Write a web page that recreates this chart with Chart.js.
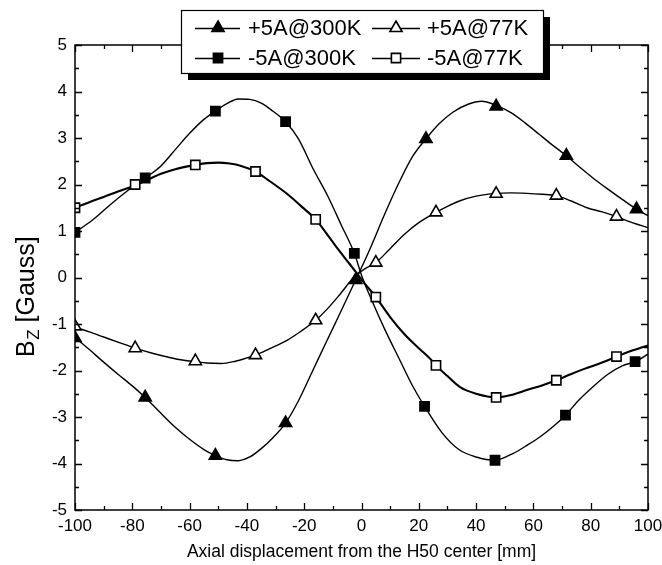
<!DOCTYPE html>
<html>
<head>
<meta charset="utf-8">
<script src="https://cdn.jsdelivr.net/npm/chart.js@4.4.1/dist/chart.umd.min.js"></script>
<style>
  html, body { margin: 0; padding: 0; background: #fff; }
  #wrap { width: 662px; height: 565px; }
</style>
</head>
<body>
<div id="wrap"><canvas id="c" width="662" height="565"></canvas></div>
<script>
// ---- Data ----
const seriesNames = ["+5A@300K", "+5A@77K", "-5A@300K", "-5A@77K"];

// measured curves (x in mm, Bz in Gauss)
const curveP300 = [[-100,-1.29],[-95,-1.55],[-90,-1.82],[-85,-2.08],[-80,-2.33],[-75.5,-2.58],[-70,-2.92],[-65,-3.22],[-60,-3.48],[-55,-3.70],[-51,-3.83],[-47,-3.92],[-43,-3.94],[-39,-3.86],[-35,-3.68],[-31,-3.45],[-26.5,-3.13],[-22,-2.65],[-17,-2.0],[-12,-1.35],[-7.5,-0.77],[-2,-0.05],[3,0.62],[8,1.35],[13.4,2.08],[18,2.62],[22.5,2.98],[27,3.30],[32,3.56],[37,3.72],[42,3.79],[47,3.70],[52,3.55],[57,3.33],[62,3.08],[66,2.88],[71.5,2.62],[76,2.38],[81,2.13],[86,1.90],[91,1.68],[96,1.47],[100,1.33]];
const curveP77 = [[-100,-1.07],[-95,-1.17],[-90,-1.28],[-85,-1.39],[-79,-1.52],[-73,-1.63],[-67,-1.72],[-62,-1.78],[-58,-1.81],[-54,-1.84],[-49,-1.85],[-44,-1.80],[-40,-1.73],[-37,-1.67],[-32,-1.53],[-26,-1.35],[-21,-1.15],[-16,-0.92],[-12,-0.68],[-7.5,-0.36],[-2.3,0.03],[1,0.18],[5,0.32],[10,0.62],[15,0.93],[20,1.18],[26,1.40],[30,1.53],[34.4,1.65],[40,1.75],[47,1.81],[52,1.82],[57.7,1.81],[63,1.79],[68,1.76],[73,1.65],[78.7,1.50],[84,1.41],[89,1.31],[94,1.19],[100,1.07]];
const curveM300 = [[-100,0.97],[-94,1.23],[-88,1.55],[-82,1.85],[-75.5,2.14],[-70,2.40],[-65,2.75],[-60,3.10],[-55,3.40],[-51,3.58],[-47,3.74],[-43,3.84],[-39,3.83],[-35,3.75],[-31,3.58],[-26.5,3.35],[-22,2.98],[-17,2.35],[-12,1.78],[-7,1.12],[-2.5,0.52],[0,0.05],[4,-0.55],[8,-1.10],[13.4,-1.78],[18,-2.35],[22,-2.77],[28,-3.33],[34,-3.70],[40,-3.86],[46.6,-3.93],[53,-3.78],[58,-3.60],[62.5,-3.42],[67,-3.20],[71.2,-2.96],[76,-2.63],[81,-2.34],[86,-2.08],[91,-1.90],[95.5,-1.81],[100,-1.65]];
const curveM77 = [[-100,1.50],[-95,1.62],[-90,1.73],[-85,1.85],[-79,1.98],[-74,2.12],[-70,2.23],[-65,2.33],[-58,2.42],[-54,2.46],[-50,2.47],[-46,2.45],[-42,2.40],[-37,2.28],[-32,2.07],[-26,1.80],[-21,1.53],[-16,1.25],[-12,0.93],[-8.6,0.64],[-4,0.28],[-1.6,0.09],[1,-0.12],[5,-0.42],[10,-0.85],[15,-1.22],[20,-1.52],[24,-1.75],[26,-1.89],[30,-2.12],[34.4,-2.36],[40,-2.50],[47,-2.58],[52,-2.53],[57.7,-2.42],[63,-2.32],[68,-2.21],[73,-2.08],[78,-1.96],[84,-1.83],[89,-1.70],[94,-1.58],[100,-1.46]];

// symbol positions
const markP300 = [[-100,-1.30],[-75.5,-2.58],[-51,-3.83],[-26.5,-3.13],[-2,-0.05],[22.5,2.98],[47,3.68],[71.5,2.62],[96,1.47]];
const markP77  = [[-100,-1.05],[-79,-1.52],[-58,-1.80],[-37,-1.67],[-16,-0.92],[5,0.32],[26,1.40],[47,1.80],[68,1.76],[89,1.31]];
const markM300 = [[-100,0.97],[-75.5,2.14],[-51,3.58],[-26.5,3.35],[-2.5,0.52],[22,-2.77],[46.6,-3.93],[71.2,-2.96],[95.5,-1.81]];
const markM77  = [[-100,1.50],[-79,2.00],[-58,2.42],[-37,2.28],[-16,1.25],[5,-0.42],[26,-1.89],[47,-2.58],[68,-2.21],[89,-1.70]];

const xTicks = [-100,-80,-60,-40,-20,0,20,40,60,80,100];
const yTicks = [-5,-4,-3,-2,-1,0,1,2,3,4,5];
const xTitle = "Axial displacement from the H50 center [mm]";

// ---- Chart ----
const FONT = "'Liberation Sans', Arial, sans-serif";
const toXY = a => a.map(p => ({x: p[0], y: p[1]}));

const styles = [
  {curve: curveP300, mark: markP300, ps: 'triangle', fill: '#000', r: 7, lw: 1.4},
  {curve: curveP77,  mark: markP77,  ps: 'triangle', fill: '#fff', r: 7, lw: 1.4},
  {curve: curveM300, mark: markM300, ps: 'rect',     fill: '#000', r: 6.5, lw: 1.4},
  {curve: curveM77,  mark: markM77,  ps: 'rect',     fill: '#fff', r: 6.5, lw: 2.1},
];

const datasets = [];
styles.forEach((s, i) => {
  datasets.push({
    label: seriesNames[i], data: toXY(s.curve), showLine: true,
    borderColor: '#000', borderWidth: s.lw, pointRadius: 0, tension: 0.35,
    cubicInterpolationMode: 'monotone', order: 2
  });
  datasets.push({
    label: seriesNames[i] + ' sym', data: toXY(s.mark), showLine: false,
    pointStyle: s.ps, pointRadius: s.r, pointBackgroundColor: s.fill,
    pointBorderColor: '#000', pointBorderWidth: 1.6, order: 1
  });
});

const frame = {
  id: 'frame',
  afterDatasetsDraw(chart) {
    const ctx = chart.ctx, a = chart.chartArea;
    const xs = chart.scales.x, ys = chart.scales.y;
    ctx.save();
    ctx.strokeStyle = '#000';
    ctx.lineWidth = 1.5;
    ctx.strokeRect(a.left, a.top, a.right - a.left, a.bottom - a.top);
    ctx.lineWidth = 1.3;
    ctx.beginPath();
    for (let v = -100; v <= 100; v += 10) {
      const px = Math.round(xs.getPixelForValue(v)) + 0.5;
      const L = (v % 20 === 0) ? 7 : 4;
      ctx.moveTo(px, a.bottom); ctx.lineTo(px, a.bottom - L);
      ctx.moveTo(px, a.top); ctx.lineTo(px, a.top + L);
    }
    for (let v = -5; v <= 5; v += 0.5) {
      const py = Math.round(ys.getPixelForValue(v)) + 0.5;
      const L = (Number.isInteger(v)) ? 7 : 4;
      ctx.moveTo(a.left, py); ctx.lineTo(a.left + L, py);
      ctx.moveTo(a.right, py); ctx.lineTo(a.right - L, py);
    }
    ctx.stroke();

    // y-axis title: B_Z [Gauss]
    ctx.translate(34, 357);
    ctx.rotate(-Math.PI / 2);
    ctx.fillStyle = '#000';
    ctx.textBaseline = 'alphabetic';
    ctx.textAlign = 'left';
    ctx.font = '25px ' + FONT;
    ctx.fillText('B', 0, 0);
    let w = ctx.measureText('B').width;
    ctx.font = '17px ' + FONT;
    ctx.fillText('Z', w + 0.5, 5);
    w += ctx.measureText('Z').width + 0.5;
    ctx.font = '25px ' + FONT;
    ctx.fillText(' [Gauss]', w, 0);
    ctx.restore();

    // legend
    ctx.save();
    const bx = 181, by = 10, bw = 362, bh = 63;
    ctx.fillStyle = '#000';
    ctx.fillRect(bx + 7, by + 7, bw, bh);
    ctx.fillStyle = '#fff';
    ctx.fillRect(bx, by, bw, bh);
    ctx.strokeStyle = '#000';
    ctx.lineWidth = 1.2;
    ctx.strokeRect(bx + 0.5, by + 0.5, bw, bh);
    const cols = [{l0: 195, l1: 240, m: 218, t: 248}, {l0: 372, l1: 420, m: 396, t: 427}];
    const rows = [28, 58];
    const order = [[0, 1], [2, 3]];
    ctx.font = '22px ' + FONT;
    ctx.textBaseline = 'middle';
    rows.forEach((ry, r) => {
      cols.forEach((c, ci) => {
        const si = order[r][ci];
        const s = styles[si];
        ctx.beginPath();
        ctx.lineWidth = 1.3;
        ctx.strokeStyle = '#000';
        ctx.moveTo(c.l0, ry + 0.5); ctx.lineTo(c.l1, ry + 0.5);
        ctx.stroke();
        ctx.fillStyle = s.fill;
        ctx.strokeStyle = '#000';
        ctx.lineWidth = 1.6;
        Chart.helpers.drawPoint(ctx, {pointStyle: s.ps, radius: s.r, rotation: 0, borderWidth: 1.6}, c.m, ry);
        ctx.fillStyle = '#000';
        ctx.fillText(seriesNames[si], c.t, ry + 1);
      });
    });
    ctx.restore();
  }
};

new Chart(document.getElementById('c'), {
  type: 'scatter',
  data: { datasets },
  options: {
    responsive: false,
    animation: false,
    devicePixelRatio: 1,
    layout: { padding: { top: 45, right: 14, left: 0, bottom: 0 } },
    plugins: { legend: { display: false }, tooltip: { enabled: false } },
    scales: {
      x: {
        type: 'linear', min: -100, max: 100,
        afterBuildTicks: s => { s.ticks = xTicks.map(v => ({value: v})); },
        afterFit: s => { s.height = 55; s.paddingLeft = 0; s.paddingRight = 0; },
        grid: { display: false, drawTicks: false },
        border: { display: false },
        ticks: { color: '#000', font: { family: FONT, size: 17 }, padding: 6, maxRotation: 0 },
        title: { display: true, text: xTitle, color: '#000', font: { family: FONT, size: 17.5 }, padding: { top: 0, bottom: 2 } }
      },
      y: {
        type: 'linear', min: -5, max: 5,
        afterBuildTicks: s => { s.ticks = yTicks.map(v => ({value: v})); },
        afterFit: s => { s.width = 75; s.paddingTop = 0; s.paddingBottom = 0; },
        grid: { display: false, drawTicks: false },
        border: { display: false },
        ticks: { color: '#000', font: { family: FONT, size: 17 }, padding: 8 }
      }
    }
  },
  plugins: [frame]
});
</script>
</body>
</html>
